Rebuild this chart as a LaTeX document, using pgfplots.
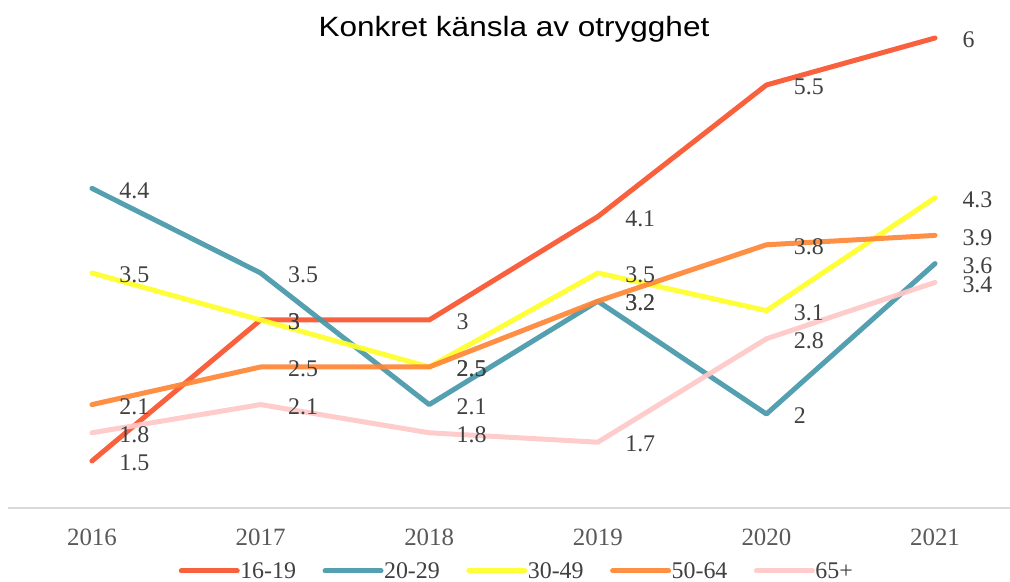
\documentclass[border=0pt]{standalone}
\usepackage{fontspec}
\setmainfont{Liberation Serif}
\newfontfamily\titlefont{Liberation Sans}[FakeStretch=1.13]
\usepackage{pgfplots}
\pgfplotsset{compat=1.18}
\definecolor{cA}{HTML}{F9552F}
\definecolor{cB}{HTML}{4799AA}
\definecolor{cC}{HTML}{FFFF2A}
\definecolor{cD}{HTML}{FF8636}
\definecolor{cE}{HTML}{FFC8C8}
\definecolor{labelgray}{HTML}{404040}
\definecolor{tickgray}{HTML}{595959}
\definecolor{axisgray}{HTML}{D9D9D9}
\begin{document}
\begin{tikzpicture}[x=1bp,y=1bp]
\path[use as bounding box] (0,0) rectangle (1010,582);
\node[font=\titlefont\fontsize{28}{32}\selectfont, anchor=base, inner sep=0pt] at (514,545) {Konkret känsla av otrygghet};
\begin{axis}[
  at={(8bp,74bp)}, anchor=south west,
  scale only axis, width=1002bp, height=470bp,
  xmin=2015.502, xmax=2021.445, ymin=1, ymax=6,
  clip=false,
  axis x line=bottom, axis y line=none,
  axis line style={-, draw=axisgray, line width=1.5bp},
  xtick={2016,2017,2018,2019,2020,2021},
  xticklabels={2016,2017,2018,2019,2020,2021},
  ytick=\empty,
  major tick length=0pt,
  xticklabel style={anchor=base, yshift=-38bp, font=\fontsize{25}{30}\selectfont, text=tickgray, inner sep=0pt},
  /pgf/number format/assume math mode=true,
  nodes near coords,
  every node near coord/.append style={anchor=west, xshift=25bp, yshift=-2bp, inner sep=0pt, font=\fontsize{24}{28}\selectfont, text=labelgray},
  legend columns=5,
  legend cell align=left,
  legend style={at={(axis description cs:0.507,-0.134)}, anchor=center, draw=none, fill=none,
    font=\fontsize{24}{28}\selectfont, text=labelgray,
    /tikz/every even column/.append style={column sep=26bp},
    nodes={inner sep=0.5bp}},
  legend image code/.code={\draw[#1] (0bp,0bp) -- (56bp,0bp);},
  every axis plot/.append style={line width=5bp, line cap=round, line join=round, draw opacity=0.93, mark=none},
]
\addplot[color=cA] coordinates {(2016,1.5) (2017,3) (2018,3) (2019,4.1) (2020,5.5) (2021,6)};
\addlegendentry{16-19}
\addplot[color=cB] coordinates {(2016,4.4) (2017,3.5) (2018,2.1) (2019,3.2) (2020,2) (2021,3.6)};
\addlegendentry{20-29}
\addplot[color=cC] coordinates {(2016,3.5) (2017,3) (2018,2.5) (2019,3.5) (2020,3.1) (2021,4.3)};
\addlegendentry{30-49}
\addplot[color=cD] coordinates {(2016,2.1) (2017,2.5) (2018,2.5) (2019,3.2) (2020,3.8) (2021,3.9)};
\addlegendentry{50-64}
\addplot[color=cE] coordinates {(2016,1.8) (2017,2.1) (2018,1.8) (2019,1.7) (2020,2.8) (2021,3.4)};
\addlegendentry{65+}
\end{axis}
\end{tikzpicture}
\end{document}
